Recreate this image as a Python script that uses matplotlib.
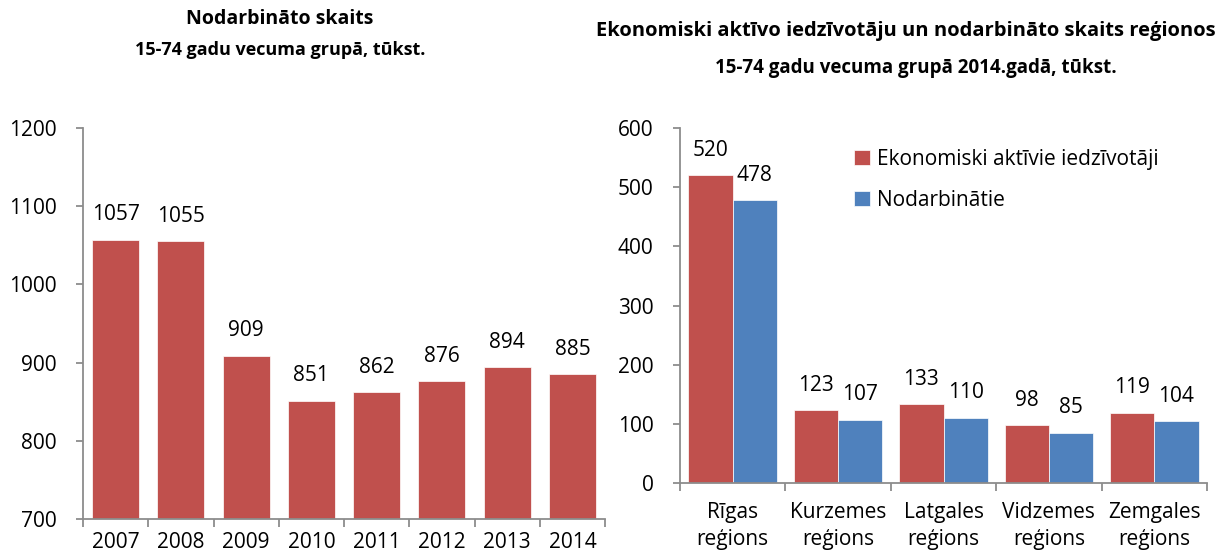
import numpy as np
import matplotlib.pyplot as plt

plt.rcParams['font.family'] = ['Open Sans', 'DejaVu Sans']
fs = 15

years = ['2007', '2008', '2009', '2010', '2011', '2012', '2013', '2014']
employed = [1057, 1055, 909, 851, 862, 876, 894, 885]

regions = ['Rīgas\nreģions', 'Kurzemes\nreģions', 'Latgales\nreģions',
           'Vidzemes\nreģions', 'Zemgales\nreģions']
active = [520, 123, 133, 98, 119]
employed_reg = [478, 107, 110, 85, 104]

red = '#C0504D'
blue = '#4F81BD'
spine_c = '#8C8C8C'

fig = plt.figure(figsize=(12.21, 5.56), dpi=100)
ax1 = fig.add_axes([83/1221, 1-519/556, (605-83)/1221, (519-128)/556])
ax2 = fig.add_axes([680/1221, 1-483/556, (1207-680)/1221, (483-128)/556])

def style(ax, xpad):
    for s in ['top', 'right']:
        ax.spines[s].set_visible(False)
    for s in ['left', 'bottom']:
        ax.spines[s].set_color(spine_c)
        ax.spines[s].set_linewidth(1.3)
    ax.tick_params(axis='y', colors=spine_c, labelcolor='black', labelsize=fs,
                   length=5, width=1.3, pad=14)
    ax.tick_params(axis='x', which='major', bottom=False, labelsize=fs, pad=xpad)
    ax.tick_params(axis='x', which='minor', bottom=True, colors=spine_c,
                   length=6, width=1.3)

# left chart
x = np.arange(len(years))
ax1.bar(x, employed, width=0.72, color=red, edgecolor='white', linewidth=0.5)
ax1.set_xlim(-0.5, len(years) - 0.5)
ax1.set_ylim(700, 1200)
ax1.set_yticks(range(700, 1201, 100))
ax1.set_xticks(x)
ax1.set_xticklabels(years)
ax1.set_xticks(np.arange(-0.5, len(years)), minor=True)
style(ax1, 6)
for xi, v in zip(x, employed):
    ax1.annotate(str(v), (xi, v), xytext=(0, 25), textcoords='offset pixels',
                 ha='center', va='center', fontsize=fs)

# right chart
x2 = np.arange(len(regions))
w = 0.42
ax2.bar(x2 - w/2, active, width=w, color=red, edgecolor='white', linewidth=0.5,
        label='Ekonomiski aktīvie iedzīvotāji')
ax2.bar(x2 + w/2, employed_reg, width=w, color=blue, edgecolor='white', linewidth=0.5,
        label='Nodarbinātie')
ax2.set_xlim(-0.5, len(regions) - 0.5)
ax2.set_ylim(0, 600)
ax2.set_yticks(range(0, 601, 100))
ax2.set_xticks(x2)
ax2.set_xticklabels(regions, linespacing=1.4)
ax2.set_xticks(np.arange(-0.5, len(regions)), minor=True)
style(ax2, 10)
for xi, v in zip(x2, active):
    ax2.annotate(str(v), (xi - w/2, v), xytext=(0, 25), textcoords='offset pixels',
                 ha='center', va='center', fontsize=fs)
for xi, v in zip(x2, employed_reg):
    ax2.annotate(str(v), (xi + w/2, v), xytext=(0, 25), textcoords='offset pixels',
                 ha='center', va='center', fontsize=fs)
ax2.legend(loc='upper left', bbox_to_anchor=((846-680)/527, 0.965), frameon=False,
           fontsize=fs, handlelength=0.75, handleheight=0.75, handletextpad=0.35,
           labelspacing=0.95, borderaxespad=0)

fig.text(280/1221, 1-19/556, 'Nodarbināto skaits', ha='center', va='center',
         fontsize=14, fontweight='bold')
fig.text(280/1221, 1-50/556, '15-74 gadu vecuma grupā, tūkst.', ha='center',
         va='center', fontsize=13, fontweight='bold')
fig.text(906/1221, 1-31/556, 'Ekonomiski aktīvo iedzīvotāju un nodarbināto skaits reģionos',
         ha='center', va='center', fontsize=14.5, fontweight='bold')
fig.text(916/1221, 1-68/556, '15-74 gadu vecuma grupā 2014.gadā, tūkst.', ha='center',
         va='center', fontsize=13.5, fontweight='bold')

fig.savefig('out.png', dpi=100)
